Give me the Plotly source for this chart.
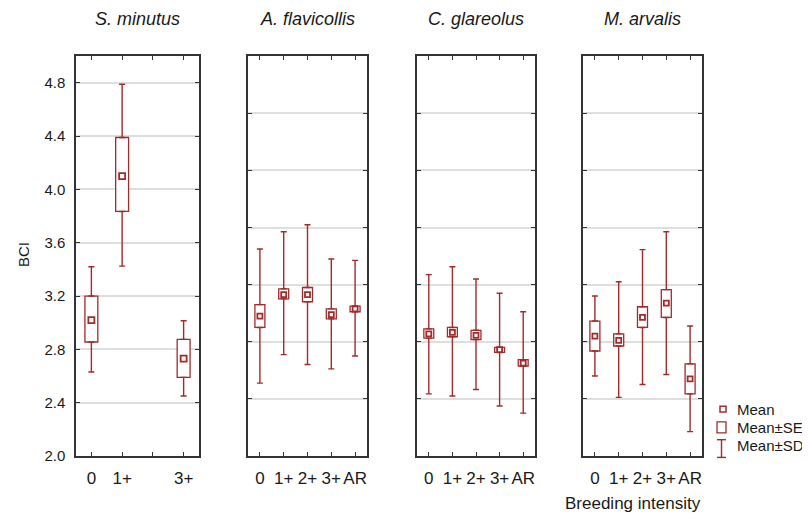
import plotly.graph_objects as go

# The page body has an 8px default margin, so the figure is offset by 8px
WIN_W, WIN_H = 810, 523
OFF = 8
W, H = WIN_W - OFF, WIN_H - OFF
RED = "#A52A2A"

species = ["S. minutus", "A. flavicollis", "C. glareolus", "M. arvalis"]
axis_cats_p1 = ["0", "1+", "2+", "3+"]
axis_text_p1 = ["0", "1+", "", "3+"]
axis_cats = ["0", "1+", "2+", "3+", "AR"]

# S. minutus
sm_cats = ["0", "1+", "3+"]
sm_mean = [3.02, 4.10, 2.73]
sm_se_lo = [2.855, 3.835, 2.59]
sm_se_hi = [3.20, 4.39, 2.875]
sm_sd_lo = [2.63, 3.425, 2.45]
sm_sd_hi = [3.42, 4.79, 3.015]

# A. flavicollis
af_cats = ["0", "1+", "2+", "3+", "AR"]
af_mean = [2.98, 3.13, 3.13, 2.99, 3.03]
af_se_lo = [2.90, 3.10, 3.08, 2.96, 3.01]
af_se_hi = [3.06, 3.17, 3.18, 3.03, 3.05]
af_sd_lo = [2.51, 2.71, 2.64, 2.61, 2.70]
af_sd_hi = [3.45, 3.57, 3.62, 3.38, 3.37]

# C. glareolus
cg_cats = ["0", "1+", "2+", "3+", "AR"]
cg_mean = [2.855, 2.865, 2.845, 2.745, 2.65]
cg_se_lo = [2.825, 2.835, 2.815, 2.725, 2.63]
cg_se_hi = [2.89, 2.90, 2.88, 2.76, 2.675]
cg_sd_lo = [2.435, 2.42, 2.465, 2.35, 2.30]
cg_sd_hi = [3.27, 3.325, 3.24, 3.14, 3.01]

# M. arvalis
ma_cats = ["0", "1+", "2+", "3+", "AR"]
ma_mean = [2.84, 2.81, 2.97, 3.07, 2.54]
ma_se_lo = [2.735, 2.77, 2.90, 2.97, 2.435]
ma_se_hi = [2.945, 2.855, 3.045, 3.165, 2.645]
ma_sd_lo = [2.56, 2.41, 2.50, 2.57, 2.17]
ma_sd_hi = [3.12, 3.22, 3.445, 3.57, 2.91]

y_ticks = [2.0, 2.4, 2.8, 3.2, 3.6, 4.0, 4.4, 4.8]


def px_x(p):
    return (p - OFF) / W


def px_y(p):
    return 1 - (p - OFF) / H


panels = [
    dict(cats=sm_cats, axc=axis_cats_p1, axt=axis_text_p1, mean=sm_mean, se_lo=sm_se_lo,
         se_hi=sm_se_hi, sd_lo=sm_sd_lo, sd_hi=sm_sd_hi, yr=[2.0, 5.0], dom=(76, 199), msize=6),
    dict(cats=af_cats, axc=axis_cats, axt=axis_cats, mean=af_mean, se_lo=af_se_lo,
         se_hi=af_se_hi, sd_lo=af_sd_lo, sd_hi=af_sd_hi, yr=[2.0, 4.8], dom=(248, 367), msize=5),
    dict(cats=cg_cats, axc=axis_cats, axt=axis_cats, mean=cg_mean, se_lo=cg_se_lo,
         se_hi=cg_se_hi, sd_lo=cg_sd_lo, sd_hi=cg_sd_hi, yr=[2.0, 4.8], dom=(417, 535), msize=5),
    dict(cats=ma_cats, axc=axis_cats, axt=axis_cats, mean=ma_mean, se_lo=ma_se_lo,
         se_hi=ma_se_hi, sd_lo=ma_sd_lo, sd_hi=ma_sd_hi, yr=[2.0, 4.8], dom=(583, 702), msize=5),
]

FONT = "Liberation Sans, Arial"
fig = go.Figure()
layout = {}
annotations = []
ydom = [px_y(463), px_y(57)]

for i, p in enumerate(panels):
    n = "" if i == 0 else str(i + 1)
    xa, ya = "x" + n, "y" + n
    xs = [p["axc"].index(c) for c in p["cats"]]
    se_h = [h - l for h, l in zip(p["se_hi"], p["se_lo"])]
    up = [s - h for s, h in zip(p["sd_hi"], p["se_hi"])]
    dn = [l - s for l, s in zip(p["se_lo"], p["sd_lo"])]
    zeros = [0] * len(xs)

    fig.add_trace(go.Bar(x=xs, y=se_h, base=p["se_lo"], width=0.42,
                         marker=dict(color="white", line=dict(color=RED, width=1.3)),
                         xaxis=xa, yaxis=ya, showlegend=False, hoverinfo="skip"))
    fig.add_trace(go.Scatter(x=xs, y=p["se_hi"], mode="markers",
                             marker=dict(size=1, color="rgba(0,0,0,0)"),
                             error_y=dict(type="data", symmetric=False, array=up, arrayminus=zeros,
                                          color=RED, thickness=1.4, width=3),
                             xaxis=xa, yaxis=ya, showlegend=False, hoverinfo="skip"))
    fig.add_trace(go.Scatter(x=xs, y=p["se_lo"], mode="markers",
                             marker=dict(size=1, color="rgba(0,0,0,0)"),
                             error_y=dict(type="data", symmetric=False, array=zeros, arrayminus=dn,
                                          color=RED, thickness=1.4, width=3),
                             xaxis=xa, yaxis=ya, showlegend=False, hoverinfo="skip"))
    fig.add_trace(go.Scatter(x=xs, y=p["mean"], mode="markers",
                             marker=dict(symbol="square", size=p["msize"], color="white",
                                         line=dict(color=RED, width=1.8)),
                             xaxis=xa, yaxis=ya, showlegend=False, hoverinfo="skip"))

    layout["xaxis" + n] = dict(
        domain=[px_x(p["dom"][0]), px_x(p["dom"][1])], anchor=ya,
        range=[-0.5, len(p["axc"]) - 0.5], tickmode="array",
        tickvals=list(range(len(p["axc"]))), ticktext=p["axt"],
        showgrid=False, zeroline=False, showline=True, linecolor="#333", linewidth=1.5,
        mirror="ticks", ticks="inside", ticklen=4, tickwidth=1, tickcolor="#333",
        tickfont=dict(family=FONT, size=17, color="#1a1a1a"),
        ticklabelstandoff=6,
    )
    layout["yaxis" + n] = dict(
        domain=ydom, anchor=xa, range=p["yr"], tickmode="array", tickvals=y_ticks,
        ticktext=[f"{v:.1f}" for v in y_ticks], showticklabels=(i == 0),
        showgrid=True, gridcolor="#dedede", gridwidth=1.5, zeroline=False,
        showline=True, linecolor="#333", linewidth=1.5, mirror="ticks", ticks="inside",
        ticklen=4, tickwidth=1, tickcolor="#333",
        tickfont=dict(family=FONT, size=15, color="#1a1a1a"),
        ticklabelstandoff=6,
    )
    annotations.append(dict(text="<i>" + species[i] + "</i>", xref=xa + " domain", yref="paper",
                            x=0.5, y=px_y(19), xanchor="center", yanchor="middle", showarrow=False,
                            font=dict(family=FONT, size=18, color="#1a1a1a")))

annotations.append(dict(text="BCI", xref="paper", yref="paper", x=px_x(23), y=px_y(259),
                        textangle=-90, showarrow=False, xanchor="center", yanchor="middle",
                        font=dict(family=FONT, size=15, color="#1a1a1a")))
annotations.append(dict(text="Breeding intensity", xref="paper", yref="paper", x=px_x(633),
                        y=px_y(511), showarrow=False, xanchor="center", yanchor="middle",
                        font=dict(family=FONT, size=17, color="#1a1a1a")))

legend_items = ["Mean", "Mean±SE", "Mean±SD"]
legend_rows = [415.5, 434, 452]
for t, yy in zip(legend_items, legend_rows):
    annotations.append(dict(text=t, xref="paper", yref="paper", x=px_x(735), y=px_y(yy),
                            showarrow=False, xanchor="left", yanchor="middle",
                            font=dict(family=FONT, size=15, color="#1a1a1a")))

shapes = [
    dict(type="rect", xref="paper", yref="paper", x0=px_x(720), x1=px_x(726),
         y0=px_y(412.5), y1=px_y(418.5), line=dict(color=RED, width=1.5)),
    dict(type="rect", xref="paper", yref="paper", x0=px_x(717), x1=px_x(726),
         y0=px_y(428.5), y1=px_y(439.5), line=dict(color=RED, width=1.3)),
    dict(type="line", xref="paper", yref="paper", x0=px_x(721.5), x1=px_x(721.5),
         y0=px_y(446.5), y1=px_y(464.5), line=dict(color=RED, width=1.4)),
    dict(type="line", xref="paper", yref="paper", x0=px_x(717), x1=px_x(726),
         y0=px_y(446.5), y1=px_y(446.5), line=dict(color=RED, width=1.4)),
    dict(type="line", xref="paper", yref="paper", x0=px_x(717), x1=px_x(726),
         y0=px_y(464.5), y1=px_y(464.5), line=dict(color=RED, width=1.4)),
]

fig.update_layout(
    width=W, height=H, margin=dict(l=0, r=0, t=0, b=0),
    paper_bgcolor="white", plot_bgcolor="white", showlegend=False,
    annotations=annotations, shapes=shapes, barmode="overlay",
    **layout,
)

fig.write_html("out.html", config={"displayModeBar": False})
